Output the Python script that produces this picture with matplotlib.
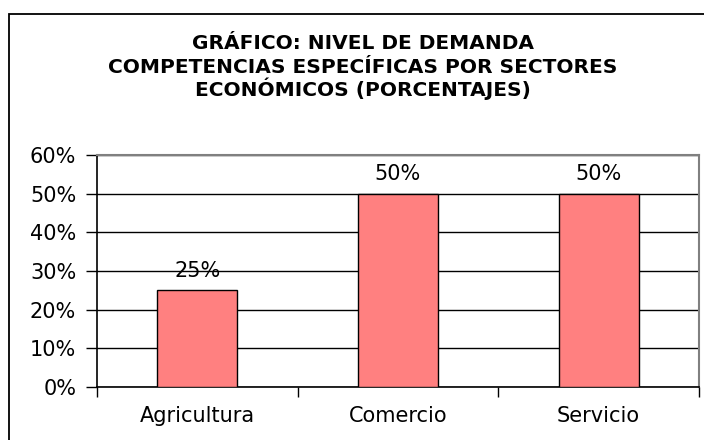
import matplotlib
matplotlib.use("Agg")
import matplotlib.pyplot as plt
from matplotlib.patches import Rectangle
from matplotlib.ticker import PercentFormatter

# datos del gráfico
sectores = ["Agricultura", "Comercio", "Servicio"]
demanda = [0.25, 0.50, 0.50]
titulo = ["GRÁFICO: NIVEL DE DEMANDA",
          "COMPETENCIAS ESPECÍFICAS POR SECTORES",
          "ECONÓMICOS (PORCENTAJES)"]

plt.rcParams["font.family"] = ["DejaVu Sans"]

fig = plt.figure(figsize=(7.04, 4.4), dpi=100)

# marco exterior del gráfico (se sale por la derecha y por abajo)
fig.patches.append(Rectangle((9 / 704, -0.2), 1.2, 1.2 - 14 / 440,
                             transform=fig.transFigure, fill=False,
                             edgecolor="black", linewidth=1.3))

ax = fig.add_axes([97 / 704, 1 - 387 / 440, (699 - 97) / 704, (387 - 155) / 440])

x = range(len(sectores))
ax.bar(x, demanda, width=0.4, color="#FF8080", edgecolor="black",
       linewidth=1, zorder=3)

for xi, v in zip(x, demanda):
    ax.annotate(f"{v:.0%}", (xi, v), xytext=(0, 9.5), textcoords="offset points",
                ha="center", va="baseline", fontsize=15)

ax.set_xlim(-0.5, len(sectores) - 0.5)
ax.set_ylim(0, 0.6)
ax.set_yticks([i / 10 for i in range(7)])
ax.yaxis.set_major_formatter(PercentFormatter(1.0, decimals=0))
ax.tick_params(axis="y", labelsize=15, direction="out", length=8, width=1, pad=7)

ax.set_xticks(list(x))
ax.set_xticklabels(sectores)
ax.set_xticks([i - 0.5 for i in range(len(sectores) + 1)], minor=True)
ax.tick_params(axis="x", which="major", length=0, labelsize=15, pad=14)
ax.tick_params(axis="x", which="minor", length=7, width=1, direction="out")

ax.grid(axis="y", color="black", linewidth=1)
ax.set_axisbelow(True)

for lado in ("top", "right"):
    ax.spines[lado].set_color("#808080")
    ax.spines[lado].set_linewidth(1.5)
for lado in ("left", "bottom"):
    ax.spines[lado].set_color("black")
    ax.spines[lado].set_linewidth(1.2)

# título en tres líneas, cada una con su línea base
for linea, base in zip(titulo, [49, 73, 96]):
    fig.text(363 / 704, 1 - base / 440, linea, ha="center", va="baseline",
             fontsize=14.5, fontweight="bold")

fig.savefig("out.png", dpi=100)
